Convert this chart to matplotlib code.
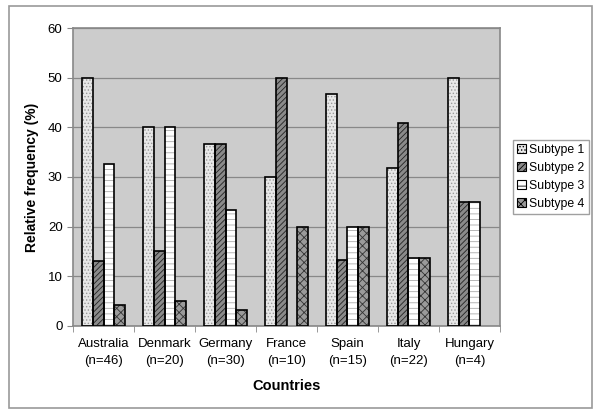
import numpy as np
import matplotlib
matplotlib.use('Agg')
import matplotlib.pyplot as plt
from matplotlib.patches import Rectangle

plt.rcParams['font.family'] = ['Liberation Sans', 'DejaVu Sans']
plt.rcParams['hatch.linewidth'] = 0.6

countries = ['Australia\n(n=46)', 'Denmark\n(n=20)', 'Germany\n(n=30)', 'France\n(n=10)',
             'Spain\n(n=15)', 'Italy\n(n=22)', 'Hungary\n(n=4)']
subtype1 = [50, 40, 36.7, 30, 46.7, 31.8, 50]
subtype2 = [13.0, 15, 36.7, 50, 13.3, 40.9, 25]
subtype3 = [32.6, 40, 23.3, 0, 20, 13.6, 25]
subtype4 = [4.3, 5, 3.3, 20, 20, 13.6, 0]
series_names = ['Subtype 1', 'Subtype 2', 'Subtype 3', 'Subtype 4']

styles = [('#e8e8e8', '#999999', '.....'),
          ('#8a8a8a', '#222222', '//////'),
          ('#ffffff', '#aaaaaa', '---'),
          ('#9a9a9a', '#333333', 'xxxx')]

fig = plt.figure(figsize=(6, 4.15), dpi=100)
ax = fig.add_axes([0.1217, 0.2145, 0.7116, 0.718])
ax.set_facecolor('#cccccc')

x = np.arange(len(countries))
w = 0.18
for i, vals in enumerate([subtype1, subtype2, subtype3, subtype4]):
    fc, hc, h = styles[i]
    pos = x + (i - 1.5) * w
    for p, v in zip(pos, vals):
        if v <= 0:
            continue
        # hatch drawn in its own colour, then black outline on top
        ax.bar(p, v, w, color=fc, edgecolor=hc, hatch=h, linewidth=0, zorder=2)
        ax.bar(p, v, w, fill=False, edgecolor='black', linewidth=1.2, zorder=3)
    ax.bar(0, 0, 0, color=fc, edgecolor='black', hatch=h, linewidth=0.8, label=series_names[i])

ax.set_xlim(-0.5, len(countries) - 0.5)
ax.set_ylim(0, 60)
ax.set_yticks(range(0, 61, 10))
ax.yaxis.grid(True, color='#888888', linewidth=0.9)
ax.set_axisbelow(True)
ax.set_xticks(x)
ax.set_xticklabels(countries, fontsize=9.5, linespacing=1.5)
ax.set_xticks(np.arange(-0.5, len(countries)), minor=True)
ax.tick_params(axis='x', which='major', length=0, pad=9)
ax.tick_params(axis='x', which='minor', length=4, color='#888888')
ax.tick_params(axis='y', labelsize=9.5, length=4, color='#888888')
for s in ax.spines.values():
    s.set_color('#888888')
    s.set_linewidth(1.2)
ax.set_ylabel('Relative frequency (%)', fontsize=10, fontweight='bold', labelpad=6)
ax.set_xlabel('Countries', fontsize=10.5, fontweight='bold', labelpad=9)

leg = ax.legend(loc='center left', bbox_to_anchor=(1.03, 0.5), fontsize=8.8, frameon=True,
                fancybox=False, edgecolor='#888888', handlelength=0.75, handleheight=0.75,
                handletextpad=0.25, borderpad=0.35, borderaxespad=0, labelspacing=0.5)

fig.patches.append(Rectangle((0.015, 0.017), 0.972, 0.968, transform=fig.transFigure,
                             fill=False, edgecolor='#999999', linewidth=1.2))

fig.savefig('out.png', dpi=100)
